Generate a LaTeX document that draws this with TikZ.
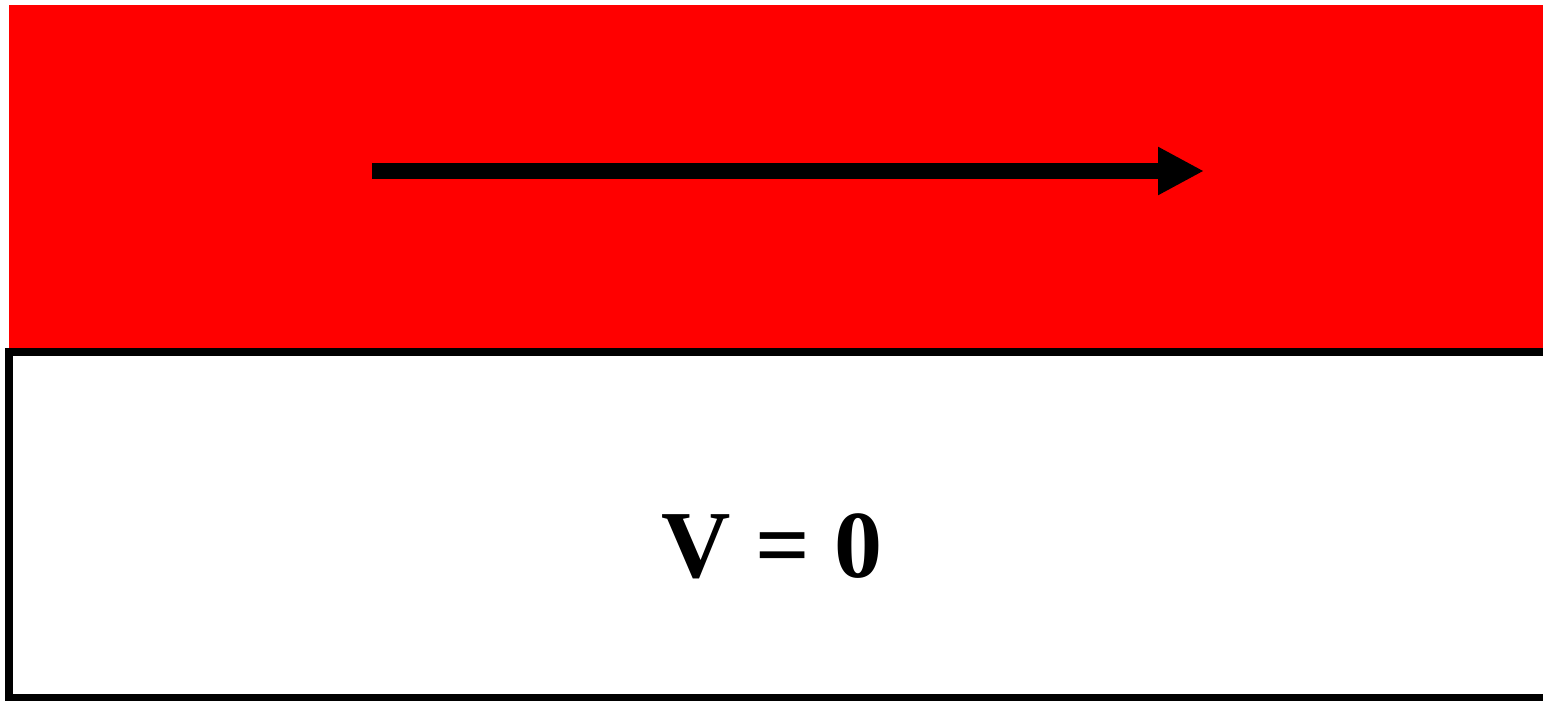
\documentclass[tikz,border=0pt]{standalone}
\usepackage{fontspec}
\setmainfont{Liberation Serif}
\usetikzlibrary{arrows.meta}
\begin{document}
\begin{tikzpicture}[x=1pt,y=-1pt,
  flow/.style={line width=16pt,-{Triangle[length=46pt,width=45pt]}},
  wallbox/.style={draw=black,line width=8pt,fill=white}]
\useasboundingbox (0,0) rectangle (1543,701);
\fill[red] (9,5) rectangle (1560,350);
\draw[wallbox] (9,352) rectangle (1580,698);
\coordinate (a) at (372,171);
\coordinate (b) at (1204,171);
\draw[flow] (a) -- (b);
\node[anchor=base,inner sep=0pt,font=\fontsize{96}{100}\selectfont\bfseries] (lbl) at (772,577) {V = 0};
\end{tikzpicture}
\end{document}
